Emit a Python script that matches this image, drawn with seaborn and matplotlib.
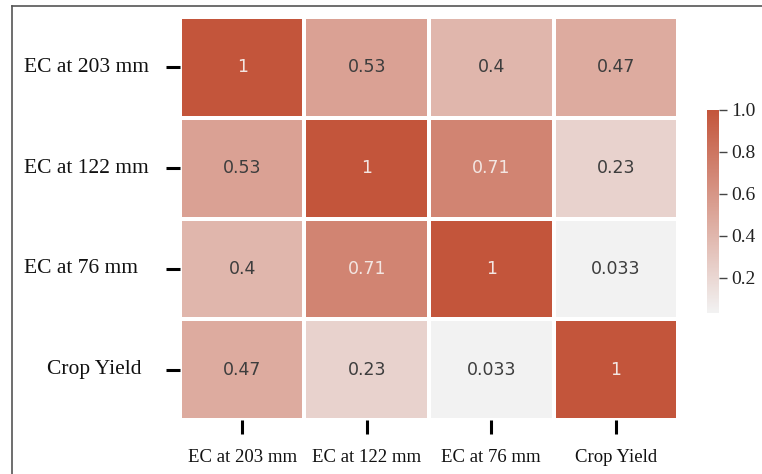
import numpy as np
import pandas as pd
import seaborn as sns
import matplotlib.pyplot as plt
from matplotlib.lines import Line2D
from matplotlib.colors import LinearSegmentedColormap
from matplotlib.transforms import blended_transform_factory

labels = ["EC at 203 mm", "EC at 122 mm", "EC at 76 mm", "Crop Yield"]
row_203 = [1.0, 0.53, 0.40, 0.47]
row_122 = [0.53, 1.0, 0.71, 0.23]
row_76 = [0.40, 0.71, 1.0, 0.033]
row_yield = [0.47, 0.23, 0.033, 1.0]

corr = pd.DataFrame([row_203, row_122, row_76, row_yield], index=labels, columns=labels)

fig = plt.figure(figsize=(7.62, 4.74), dpi=100)
ax = fig.add_axes([0.236, 0.114, 0.654, 0.850])
cax = fig.add_axes([0.928, 0.340, 0.015, 0.428])

cmap = LinearSegmentedColormap.from_list("grey_red", ["#f2f2f2", "#c3553b"])
sns.heatmap(corr, ax=ax, cbar_ax=cax, cmap=cmap, annot=True,
            linewidths=1.5, linecolor="white",
            annot_kws={"fontsize": 12.5, "family": "DejaVu Sans"})

# soften annotation colours: grey on light cells, off-white on dark cells
for t in ax.texts:
    if t.get_color() in ("w", "white", "#ffffff") or t.get_color() == (1, 1, 1):
        t.set_color("#f3e6e2")
    else:
        t.set_color("#3d3d3d")

serif = "Liberation Serif"
ax.tick_params(axis="both", length=10, width=2.2, color="black")
ax.tick_params(axis="x", pad=11, rotation=0)
for t in ax.get_xticklabels():
    t.set_fontfamily(serif)
    t.set_fontsize(13.5)
    t.set_color("#111111")
ax.set_xlabel("")
ax.set_ylabel("")

# row labels: left-aligned block, last one set slightly inward
ax.set_yticklabels([])
ytrans = blended_transform_factory(fig.transFigure, ax.transData)
row_label_x = [24, 24, 24, 47]
for i, (lab, px) in enumerate(zip(labels, row_label_x)):
    ax.text(px / 762, i + 0.5, lab, transform=ytrans, ha="left", va="center",
            fontfamily=serif, fontsize=15.5, color="#111111")

cax.tick_params(length=6, width=1, color="#444444", pad=3)
for t in cax.get_yticklabels():
    t.set_fontfamily(serif)
    t.set_fontsize(14)
    t.set_color("#222222")
cax.set_frame_on(False)

# outer frame, left and top edges
fig.add_artist(Line2D([12 / 762, 12 / 762], [0, 1 - 6 / 474], color="#555555", lw=1.2))
fig.add_artist(Line2D([12 / 762, 1], [1 - 6 / 474, 1 - 6 / 474], color="#555555", lw=1.2))

fig.savefig("out.png", dpi=100)
